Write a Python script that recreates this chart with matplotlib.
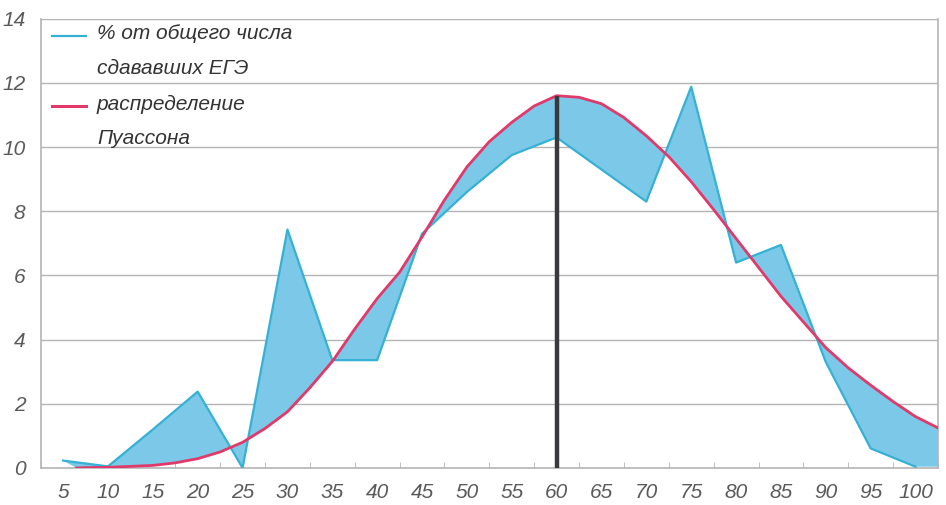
import numpy as np
import matplotlib
matplotlib.use("Agg")
import matplotlib.pyplot as plt

# share of exam takers (%) by score
scores = [5, 10, 15, 20, 25, 30, 35, 40, 45, 50, 55, 60, 65, 70, 75, 80, 85, 90, 95, 100, 102.5]
share = [0.23, 0.05, 1.2, 2.38, 0.0, 7.43, 3.36, 3.36, 7.3, 8.6, 9.75, 10.3, 9.3, 8.3,
         11.88, 6.4, 6.95, 3.3, 0.61, 0.04, 0.04]

# Poisson curve, read every 2.5 points
pois_x = [6.5, 7.5, 10, 12.5, 15, 17.5, 20, 22.5, 25, 27.5, 30, 32.5, 35, 37.5, 40, 42.5,
          45, 47.5, 50, 52.5, 55, 57.5, 60, 62.5, 65, 67.5, 70, 72.5, 75, 77.5, 80, 82.5,
          85, 87.5, 90, 92.5, 95, 97.5, 100, 102.5]
pois_y = [0.0, 0.01, 0.02, 0.05, 0.08, 0.16, 0.29, 0.5, 0.8, 1.23, 1.75, 2.5, 3.32, 4.33,
          5.28, 6.1, 7.2, 8.35, 9.38, 10.17, 10.77, 11.28, 11.6, 11.55, 11.35, 10.92, 10.35,
          9.7, 8.92, 8.05, 7.15, 6.25, 5.35, 4.55, 3.75, 3.12, 2.58, 2.07, 1.6, 1.25]

tick_vals = list(range(5, 101, 5))
y_ticks = list(range(0, 15, 2))
peak_x = 60
peak_y = 11.6

blue_line = "#35b1d3"
blue_fill = "#7cc8e8"
pink = "#e0396a"
grid_c = "#b4b4b4"
txt_c = "#5a5a5a"

plt.rcParams['font.family'] = ['Liberation Sans', 'DejaVu Sans']

fig = plt.figure(figsize=(9.46, 5.05), dpi=100)
ax = fig.add_axes([0.043, 0.0733, 0.9485, 0.8897])

# shaded area between the two curves
poly_x = np.concatenate([scores, pois_x[::-1]])
poly_y = np.concatenate([share, pois_y[::-1]])
ax.fill(poly_x, poly_y, color=blue_fill, lw=0, zorder=2)

ax.plot(scores[:-1], share[:-1], color=blue_line, lw=1.6, zorder=3)
ax.plot(pois_x, pois_y, color=pink, lw=2.0, zorder=4)
ax.plot([peak_x, peak_x], [0, peak_y], color="#3a3a3e", lw=3.2, zorder=5,
        solid_capstyle="butt")

ax.set_xlim(2.5, 102.5)
ax.set_ylim(0, 14)
ax.set_yticks(y_ticks)
ax.set_yticklabels([str(v) for v in y_ticks], fontsize=15, style="italic", color=txt_c)
ax.set_xticks(tick_vals)
ax.set_xticklabels([str(v) for v in tick_vals], fontsize=15, style="italic", color=txt_c)
ax.set_xticks(np.arange(2.5, 103, 5), minor=True)
ax.tick_params(axis="x", which="major", length=0, pad=11)
ax.tick_params(axis="x", which="minor", length=4, color=grid_c, direction="in")
ax.tick_params(axis="y", length=0, pad=11)

ax.yaxis.grid(True, color=grid_c, lw=1)
ax.set_axisbelow(True)
ax.spines["top"].set_visible(False)
for s in ["left", "bottom", "right"]:
    ax.spines[s].set_color(grid_c)
    ax.spines[s].set_linewidth(1.2)

# legend drawn by hand: handle next to the first line of each label
fs = 15
ax.plot([0.0126, 0.051], [0.961, 0.961], transform=ax.transAxes, color=blue_line, lw=1.6,
        clip_on=False)
ax.plot([0.0126, 0.051], [0.806, 0.806], transform=ax.transAxes, color=pink, lw=2.2,
        clip_on=False)
rows = [("% от общего числа", 0.966), ("сдававших ЕГЭ", 0.890),
        ("распределение", 0.810), ("Пуассона", 0.734)]
for label, yy in rows:
    ax.text(0.0627, yy, label, transform=ax.transAxes, fontsize=fs,
            style="italic", color="#333333", va="center")

fig.savefig("out.png", dpi=100)
